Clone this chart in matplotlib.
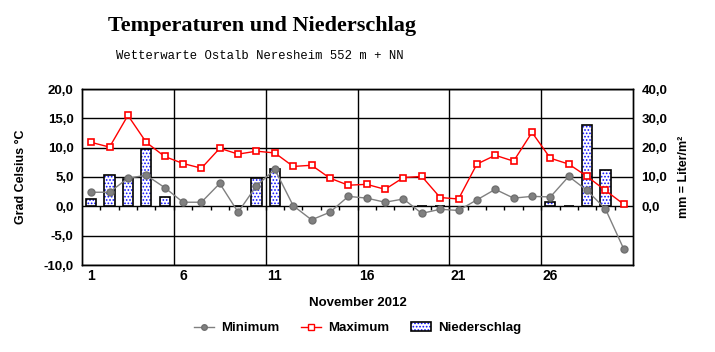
import numpy as np
import matplotlib.pyplot as plt
from matplotlib.patches import Patch
from matplotlib.lines import Line2D
from matplotlib.ticker import FuncFormatter

plt.rcParams["font.family"] = "Liberation Sans"
plt.rcParams["hatch.linewidth"] = 0.8

days = np.arange(1, 31)
t_min = [2.4, 2.4, 4.8, 5.3, 3.2, 0.7, 0.7, 3.9, -1.0, 3.5,
         6.3, 0.1, -2.3, -1.0, 1.7, 1.4, 0.7, 1.25, -1.2, -0.5,
         -0.7, 1.1, 2.9, 1.4, 1.7, 1.6, 5.1, 2.7, -0.45, -7.3]
t_max = [10.9, 10.1, 15.5, 10.9, 8.5, 7.3, 6.5, 9.9, 8.9, 9.4,
         9.1, 6.8, 7.0, 4.8, 3.6, 3.75, 2.9, 4.9, 5.1, 1.5,
         1.25, 7.2, 8.7, 7.7, 12.6, 8.2, 7.2, 5.1, 2.7, 0.35]
precip = [2.5, 10.6, 9.3, 19.7, 3.1, 0, 0, 0, 0.2, 9.6,
          12.6, 0, 0, 0, 0, 0, 0, 0, 0.2, 0.2,
          0, 0, 0, 0, 0, 1.4, 0.2, 27.6, 12.3, 0]
x_labels = [1, 6, 11, 16, 21, 26]


def comma(v, pos):
    return "" if v < 0 else f"{v:.1f}".replace(".", ",")


def main():
    fig = plt.figure(figsize=(7.15, 3.52), dpi=100)
    ax_p = fig.add_axes([82 / 715, 1 - 265 / 352, 551 / 715, 176 / 352])
    ax_t = ax_p.twinx()

    # precipitation bars (right axis), only days with rain
    p = np.array(precip)
    wet = p > 0
    ax_p.bar(days[wet], p[wet], width=0.55, color="white", edgecolor="#1010ff",
             hatch=".....", linewidth=0, zorder=2)
    ax_p.bar(days[wet], p[wet], width=0.55, color="none", edgecolor="black",
             linewidth=1.2, zorder=3)
    ax_p.set_ylim(-20, 40)
    ax_p.set_yticks(np.arange(-20, 41, 10))
    ax_p.yaxis.set_major_formatter(FuncFormatter(comma))
    ax_p.yaxis.tick_right()
    ax_p.yaxis.set_label_position("right")
    ax_p.set_ylabel("mm = Liter/m²", fontweight="bold", fontsize=9, labelpad=8)
    ax_p.set_xlim(0.5, 30.5)
    ax_p.set_xticks(x_labels)
    ax_p.set_xticklabels([str(d) for d in x_labels], fontweight="bold", fontsize=10)
    ax_p.set_xticks(np.arange(5.5, 30, 5), minor=True)
    ax_p.tick_params(axis="x", which="both", length=0, pad=3)
    ax_p.tick_params(axis="y", length=0, pad=6, labelsize=9.5)
    for lab in ax_p.get_yticklabels():
        lab.set_fontweight("bold")
    ax_p.grid(True, axis="y", color="black", linewidth=1, zorder=0)
    ax_p.grid(True, axis="x", which="minor", color="black", linewidth=1, zorder=0)
    ax_p.set_axisbelow(True)
    ax_p.vlines(np.arange(1.5, 30, 1), -1.4, 0, color="black", linewidth=1, zorder=1)
    ax_p.set_xlabel("November 2012", fontweight="bold", fontsize=9.5, labelpad=10)

    # temperatures (left axis)
    ax_t.plot(days, t_min, color="#808080", linewidth=1, marker="o",
              markersize=5, markerfacecolor="#808080", markeredgecolor="#707070", zorder=4)
    ax_t.plot(days, t_max, color="red", linewidth=1, marker="s",
              markersize=5, markerfacecolor="white", markeredgecolor="red",
              markeredgewidth=1.2, zorder=5)
    ax_t.set_ylim(-10, 20)
    ax_t.set_yticks(np.arange(-10, 21, 5))
    ax_t.yaxis.set_major_formatter(FuncFormatter(lambda v, p: f"{v:.1f}".replace(".", ",")))
    ax_t.yaxis.tick_left()
    ax_t.yaxis.set_label_position("left")
    ax_t.tick_params(axis="y", length=0, pad=6, labelsize=9.5)
    for lab in ax_t.get_yticklabels():
        lab.set_fontweight("bold")
    ax_t.set_ylabel("Grad Celsius °C", fontweight="bold", fontsize=9, labelpad=12)

    for ax in (ax_p, ax_t):
        for s in ax.spines.values():
            s.set_linewidth(1)
            s.set_color("black")

    fig.text(0.366, 0.925, "Temperaturen und Niederschlag", ha="center", va="center",
             family="Liberation Serif", fontweight="bold", fontsize=16)
    fig.text(0.364, 0.842, "Wetterwarte Ostalb Neresheim 552 m + NN", ha="center",
             va="center", family="Liberation Mono", fontsize=8.8)

    handles = [
        Line2D([], [], color="#808080", linewidth=1, marker="o", markersize=4,
               markerfacecolor="#808080", markeredgecolor="#707070"),
        Line2D([], [], color="red", linewidth=1, marker="s", markersize=4,
               markerfacecolor="white", markeredgecolor="red"),
        (Patch(facecolor="white", edgecolor="#1010ff", hatch=".....", linewidth=0),
         Patch(facecolor="none", edgecolor="black", linewidth=1.2)),
    ]
    fig.legend(handles, ["Minimum", "Maximum", "Niederschlag"], loc="center",
               bbox_to_anchor=(0.5, 0.068), ncol=3, frameon=False,
               prop={"weight": "bold", "size": 9.5}, handlelength=1.5,
               columnspacing=1.7, handletextpad=0.5)

    fig.savefig("out.png", dpi=100)


if __name__ == "__main__":
    main()
